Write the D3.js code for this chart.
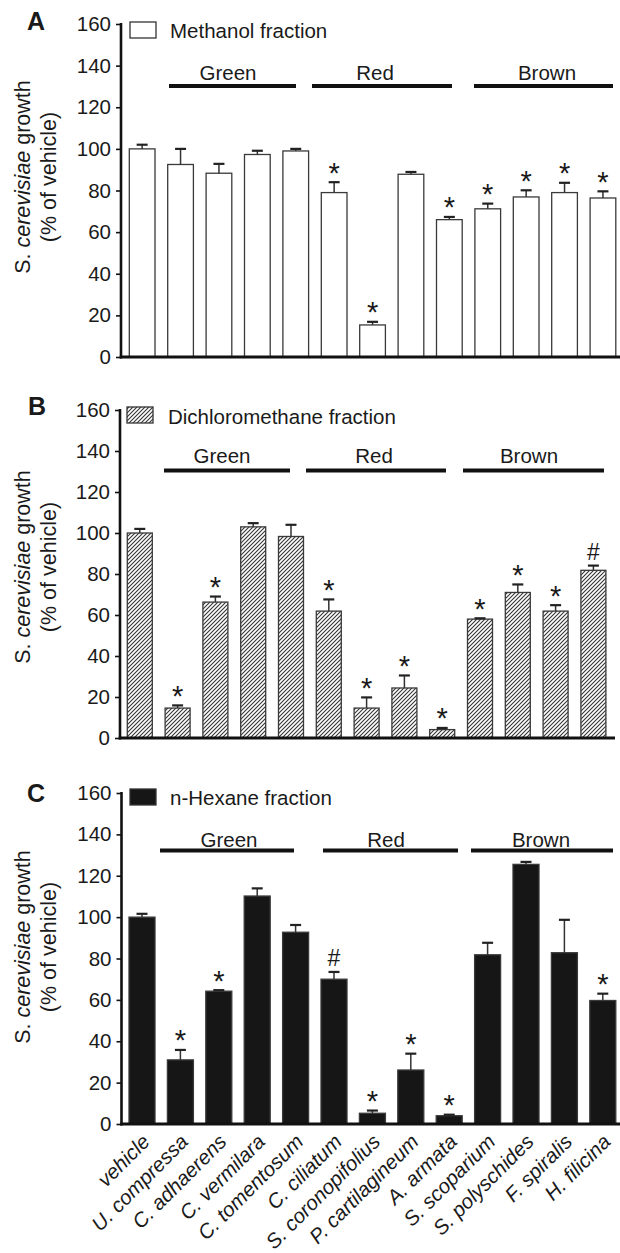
<!DOCTYPE html>
<html><head><meta charset="utf-8">
<script src="https://cdn.jsdelivr.net/npm/d3@7"></script>
<style>
body{margin:0;background:#fff}
svg{display:block}
text{font-family:Arial,"Liberation Sans",Helvetica,sans-serif;fill:#1a1a1a}
</style>
</head><body><svg id="c" width="620" height="1253"></svg>
<script>
// ---------- data ----------
const categories = ["vehicle","U. compressa","C. adhaerens","C. vermilara","C. tomentosum","C. ciliatum","S. coronopifolius","P. cartilagineum","A. armata","S. scoparium","S. polyschides","F. spiralis","H. filicina"];

const methanolValues = [100, 92.5, 88.3, 97.3, 99, 79, 15.4, 87.8, 66, 71.2, 76.9, 79, 76.4];
const methanolErrors = [2, 7.5, 4.5, 1.8, 1, 5, 1.5, 1.1, 1.3, 2.5, 3.2, 4.7, 3.2];
const methanolMarks  = ["","","","","","*","*","","*","*","*","*","*"];

const dcmValues = [100, 14.6, 66.3, 103, 98.3, 61.9, 14.6, 24.4, 4.1, 58, 71, 61.9, 81.8];
const dcmErrors = [2, 1.3, 2.7, 1.8, 5.7, 5.7, 5.2, 6.1, 0.8, 0.4, 3.9, 2.9, 2.3];
const dcmMarks  = ["","*","*","","","*","*","*","*","*","*","*","#"];

const hexaneValues = [100, 31, 64.2, 110.2, 92.7, 70, 5.2, 26.1, 4.0, 81.8, 125.5, 82.8, 59.7];
const hexaneErrors = [1.6, 4.8, 0.5, 3.7, 3.5, 3.5, 1.3, 7.9, 0.5, 5.8, 1.2, 15.9, 3.3];
const hexaneMarks  = ["","*","*","","","#","*","*","*","","","","*"];

const yTicks = [0, 20, 40, 60, 80, 100, 120, 140, 160];
const groupNames = ["Green", "Red", "Brown"];
const legendLabels = ["Methanol fraction", "Dichloromethane fraction", "n-Hexane fraction"];
const panelLetters = ["A", "B", "C"];

// ---------- layout ----------
const layouts = [
  {top:24, bottom:357, axisX:121, barStart:129.3, step:38.4, bw:25.7, fill:"#ffffff",
   groupY:86, labelY:80, groupX:[[169,296],[312,452],[474,613]], labelX:[228,375,547],
   legBox:[130,22], legTextX:170, legBase:38, titleC:177, letterBase:30, letterX:27, xEnd:620},
  {top:410, bottom:738, axisX:120, barStart:127.3, step:37.8, bw:25, fill:"url(#hatch)",
   groupY:470.5, labelY:463, groupX:[[164,290],[306,446],[463,604]], labelX:[222,374,529],
   legBox:[127,407], legTextX:168, legBase:424, titleC:567, letterBase:415, letterX:28, xEnd:615},
  {top:793, bottom:1124, axisX:121.5, barStart:129, step:38.4, bw:26, fill:"#161616",
   groupY:850.5, labelY:847, groupX:[[160,294],[323,458],[471,613]], labelX:[229,386,541],
   legBox:[130,789], legTextX:170, legBase:805, titleC:947, letterBase:802, letterX:27, xEnd:620}
];
const series = [
  [methanolValues, methanolErrors, methanolMarks],
  [dcmValues, dcmErrors, dcmMarks],
  [hexaneValues, hexaneErrors, hexaneMarks]
];

const svg = d3.select("#c");
const defs = svg.append("defs");
const pat = defs.append("pattern").attr("id","hatch").attr("patternUnits","userSpaceOnUse")
  .attr("width",4).attr("height",4);
pat.append("rect").attr("width",4).attr("height",4).attr("fill","#fff");
pat.append("path").attr("d","M-1,1 l2,-2 M0,4 l4,-4 M3,5 l2,-2")
  .attr("stroke","#333").attr("stroke-width",1.1);

const FS = 20.5;

layouts.forEach((L, pi) => {
  const [vals, errs, marks] = series[pi];
  const n = categories.length;
  const padIn = 1 - L.bw / L.step;
  const x = d3.scaleBand().domain(categories)
    .range([L.barStart, L.barStart + L.step * (n - padIn)])
    .paddingInner(padIn).paddingOuter(0).align(0);
  const y = d3.scaleLinear().domain([0, 160]).range([L.bottom, L.top]);
  const g = svg.append("g");

  // bars
  g.selectAll("rect.bar").data(categories).join("rect")
    .attr("class","bar")
    .attr("x", d => x(d)).attr("width", x.bandwidth())
    .attr("y", (d,i) => y(vals[i])).attr("height", (d,i) => y(0) - y(vals[i]))
    .attr("fill", L.fill).attr("stroke", "#3a3a3a").attr("stroke-width", 1.3);

  // error bars
  categories.forEach((c, i) => {
    const cx = x(c) + x.bandwidth() / 2;
    const yt = y(vals[i] + errs[i]);
    g.append("line").attr("x1",cx).attr("x2",cx).attr("y1",y(vals[i])).attr("y2",yt)
      .attr("stroke","#333").attr("stroke-width",1.5);
    g.append("line").attr("x1",cx-5.5).attr("x2",cx+5.5).attr("y1",yt).attr("y2",yt)
      .attr("stroke","#222").attr("stroke-width",2.2);
    if (marks[i]) {
      const star = marks[i] === "*";
      g.append("text").attr("x", cx).attr("y", star ? yt + 0.5 : yt - 6)
        .attr("text-anchor","middle").attr("font-size", star ? 29 : 23)
        .attr("fill","#222")
        .text(marks[i]);
    }
  });

  // y axis
  const yAxis = d3.axisLeft(y).tickValues(yTicks).tickSize(5).tickPadding(5);
  const ya = g.append("g").attr("transform", `translate(${L.axisX},0)`).call(yAxis);
  ya.select(".domain").remove();
  ya.selectAll(".tick line").attr("stroke","#111").attr("stroke-width",1.6);
  ya.selectAll(".tick text").attr("font-size", FS).attr("font-family","Arial,'Liberation Sans',sans-serif").attr("fill","#1a1a1a");
  g.append("line").attr("x1",L.axisX).attr("x2",L.axisX).attr("y1",y(160)-1).attr("y2",y(0)+1.5)
    .attr("stroke","#111").attr("stroke-width",2.6);
  // x axis line
  g.append("line").attr("x1",L.axisX-1.3).attr("x2",L.xEnd).attr("y1",y(0)).attr("y2",y(0))
    .attr("stroke","#111").attr("stroke-width",2.8);

  // group lines
  groupNames.forEach((name, k) => {
    g.append("line").attr("x1",L.groupX[k][0]).attr("x2",L.groupX[k][1])
      .attr("y1",L.groupY).attr("y2",L.groupY).attr("stroke","#111").attr("stroke-width",4);
    g.append("text").attr("x",L.labelX[k]).attr("y",L.labelY).attr("text-anchor","middle")
      .attr("font-size",FS).text(name);
  });

  // legend
  g.append("rect").attr("x",L.legBox[0]).attr("y",L.legBox[1]).attr("width",26).attr("height",16)
    .attr("fill",L.fill).attr("stroke","#333").attr("stroke-width",1.3);
  g.append("text").attr("x",L.legTextX).attr("y",L.legBase).attr("font-size",FS).text(legendLabels[pi]);

  // panel letter
  g.append("text").attr("x",L.letterX).attr("y",L.letterBase).attr("font-size",25)
    .attr("font-weight","bold").attr("fill","#111").text(panelLetters[pi]);

  // y title
  const t1 = g.append("text").attr("transform",`translate(30,${L.titleC}) rotate(-90)`)
    .attr("text-anchor","middle").attr("font-size",21.5);
  t1.append("tspan").text("S. ");
  t1.append("tspan").attr("font-style","italic").text("cerevisiae");
  t1.append("tspan").text(" growth");
  g.append("text").attr("transform",`translate(56,${L.titleC}) rotate(-90)`)
    .attr("text-anchor","middle").attr("font-size",21.5).text("(% of vehicle)");

  // x labels only on last panel
  if (pi === 2) {
    categories.forEach(c => {
      const cx = x(c) + x.bandwidth() / 2;
      g.append("text").attr("transform",`translate(${cx+9},${y(0)+19}) rotate(-45)`)
        .attr("text-anchor","end").attr("font-size",FS).attr("font-style","italic").text(c);
    });
  }
});
</script>
</body></html>
